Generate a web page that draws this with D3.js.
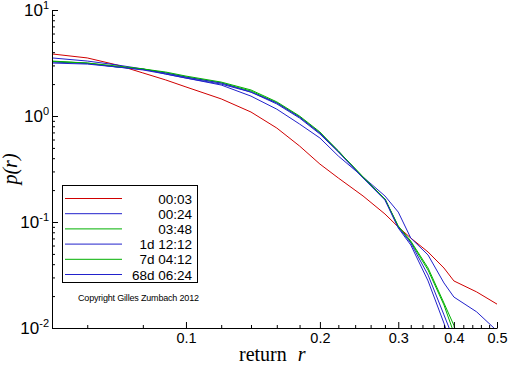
<!DOCTYPE html>
<html>
<head>
<meta charset="utf-8">
<script src="https://cdn.jsdelivr.net/npm/d3@7"></script>
<style>
  body { margin: 0; background: #fff; }
  svg { display: block; }
</style>
</head>
<body>
<div id="VizBox"></div>
<script>
// return values r (shared x grid for all curves)
var returns = [0.05, 0.06, 0.07, 0.08, 0.09, 0.1, 0.12, 0.14, 0.16, 0.18, 0.2,
               0.22, 0.25, 0.28, 0.3, 0.32, 0.35, 0.38, 0.4, 0.45, 0.5];

// p(r) for each time horizon (null = curve left the plot)
var p_0003 = [3.85, 3.53, 3.03, 2.55, 2.19, 1.88, 1.45, 1.09, 0.770, 0.521, 0.352,
              0.260, 0.176, 0.119, 0.0897, 0.0706, 0.0521, 0.0368, 0.0278, 0.0219, 0.0168];
var p_0024 = [3.53, 3.30, 3.03, 2.78, 2.49, 2.28, 1.96, 1.54, 1.16, 0.840, 0.620,
              0.419, 0.266, 0.176, 0.124, 0.0706, 0.0488, 0.0266, 0.0196, 0.0142, 0.0094];
var p_0348 = [3.30, 3.16, 2.90, 2.78, 2.55, 2.33, 2.05, 1.72, 1.33, 0.979, 0.691,
              0.467, 0.266, 0.165, 0.0897, 0.0648, 0.0352, 0.0165, 0.00897, null, null];
var p_1d1212 = [3.23, 3.13, 2.90, 2.75, 2.55, 2.33, 2.05, 1.68, 1.33, 0.979, 0.691,
                0.467, 0.260, 0.165, 0.0897, 0.0634, 0.0316, 0.0133, 0.0077, null, null];
var p_7d0412 = [3.27, 3.16, 2.96, 2.78, 2.60, 2.38, 2.09, 1.76, 1.36, 1.0, 0.707,
                0.467, 0.266, 0.165, 0.0917, 0.0662, 0.0368, 0.0172, 0.0106, 0.00233, null];
var p_68d0624 = [3.16, 3.09, 2.90, 2.72, 2.49, 2.28, 2.00, 1.68, 1.30, 0.957, 0.676,
                 0.457, 0.260, 0.161, 0.0878, 0.0607, 0.0278, 0.0111, 0.00594, null, null];

var seriesNames = ["00:03", "00:24", "03:48", "1d 12:12", "7d 04:12", "68d 06:24"];
var seriesValues = [p_0003, p_0024, p_0348, p_1d1212, p_7d0412, p_68d0624];
var seriesColors = ["#d00000", "#2222cc", "#00b000", "#2222cc", "#00b000", "#2222cc"];

// tick labels
var xTicks = [0.1, 0.2, 0.3, 0.4, 0.5];
var xTickLabels = ["0.1", "0.2", "0.3", "0.4", "0.5"];
var xMinorTicks = [0.06, 0.08, 0.12, 0.14, 0.16, 0.18, 0.22, 0.24, 0.26, 0.28,
                   0.32, 0.34, 0.36, 0.38, 0.42, 0.44, 0.46, 0.48];
var yTicks = [0.01, 0.1, 1, 10];
var yExponents = ["-2", "-1", "0", "1"];

var W = 512, H = 366;
var plotLeft = 52, plotRight = 497, plotTop = 10, plotBottom = 328;

var svg = d3.select("#VizBox")
  .append("svg")
    .attr("width", W)
    .attr("height", H);

var x = d3.scaleLog().domain([0.05, 0.5]).range([plotLeft, plotRight]);
var y = d3.scaleLog().domain([0.01, 10]).range([plotBottom, plotTop]);

// clip for the curves
svg.append("clipPath").attr("id", "plotclip")
  .append("rect")
    .attr("x", plotLeft).attr("y", plotTop)
    .attr("width", plotRight - plotLeft).attr("height", plotBottom - plotTop);

var line = d3.line()
  .defined(function(d) { return d.p != null; })
  .x(function(d) { return x(d.r); })
  .y(function(d) { return y(d.p); });

var curves = svg.append("g").attr("clip-path", "url(#plotclip)");
seriesValues.forEach(function(vals, i) {
  var pts = returns.map(function(r, j) { return {r: r, p: vals[j]}; });
  curves.append("path")
    .datum(pts)
    .attr("fill", "none")
    .attr("stroke", seriesColors[i])
    .attr("stroke-width", 1)
    .attr("d", line);
});

// x axis: minor ticks then major ticks with labels
svg.append("g")
  .attr("transform", "translate(0," + plotBottom + ")")
  .call(d3.axisBottom(x).tickValues(xMinorTicks).tickSizeInner(-3).tickSizeOuter(0).tickFormat(""))
  .call(function(g) { g.select(".domain").remove(); });

var xAxis = svg.append("g")
  .attr("transform", "translate(0," + plotBottom + ")")
  .call(d3.axisBottom(x).tickValues(xTicks).tickSizeInner(-6).tickSizeOuter(0).tickPadding(5)
        .tickFormat(function(d, i) { return xTickLabels[i]; }));
xAxis.selectAll("text")
  .attr("fill", "#000")
  .style("font-family", "'Liberation Sans', Arial, sans-serif")
  .style("font-size", "14.5px");
xAxis.selectAll("line, path").attr("stroke", "#000");

// y axis: minor ticks 2..9 in each decade
var yMinor = [];
[0.01, 0.1, 1].forEach(function(dec) {
  for (var k = 2; k <= 9; k++) yMinor.push(dec * k);
});
svg.append("g")
  .attr("transform", "translate(" + plotLeft + ",0)")
  .call(d3.axisLeft(y).tickValues(yMinor).tickSizeInner(-3).tickSizeOuter(0).tickFormat(""))
  .call(function(g) { g.select(".domain").remove(); });

var yAxis = svg.append("g")
  .attr("transform", "translate(" + plotLeft + ",0)")
  .call(d3.axisLeft(y).tickValues(yTicks).tickSizeInner(-6).tickSizeOuter(0).tickFormat(""));
yAxis.selectAll("line, path").attr("stroke", "#000");

// 10^k labels
yTicks.forEach(function(v, i) {
  var t = svg.append("text")
    .attr("x", plotLeft - 3)
    .attr("y", y(v) + 5.5)
    .attr("text-anchor", "end")
    .style("font-family", "'Liberation Sans', Arial, sans-serif")
    .style("font-size", "17px");
  t.append("tspan").text("10");
  t.append("tspan")
    .attr("dy", -6.5)
    .style("font-size", "11px")
    .text(yExponents[i]);
});

// axis titles
var xTitle = svg.append("text")
  .attr("x", 239)
  .attr("y", 361)
  .style("font-family", "'Liberation Serif', 'Times New Roman', serif")
  .style("font-size", "20px");
xTitle.append("tspan").text("return ");
xTitle.append("tspan").attr("dx", 6).style("font-style", "italic").text("r");

svg.append("text")
  .attr("transform", "translate(17,169) rotate(-90)")
  .attr("text-anchor", "middle")
  .style("font-family", "'Liberation Serif', 'Times New Roman', serif")
  .style("font-size", "20px")
  .style("font-style", "italic")
  .text("p(r)");

// legend
var legend = svg.append("g");
legend.append("rect")
  .attr("x", 62.5).attr("y", 185.5)
  .attr("width", 135).attr("height", 97)
  .attr("fill", "#fff")
  .attr("stroke", "#000")
  .attr("stroke-width", 1);

seriesNames.forEach(function(name, i) {
  var ly = 198.5 + i * 15.2;
  legend.append("line")
    .attr("x1", 65).attr("x2", 122)
    .attr("y1", ly).attr("y2", ly)
    .attr("stroke", seriesColors[i])
    .attr("stroke-width", 1);
  legend.append("text")
    .attr("x", 192)
    .attr("y", ly + 5)
    .attr("text-anchor", "end")
    .style("font-family", "'Liberation Sans', Arial, sans-serif")
    .style("font-size", "13.5px")
    .text(name);
});

svg.append("text")
  .attr("x", 78)
  .attr("y", 301)
  .attr("textLength", 121)
  .style("font-family", "'Liberation Sans', Arial, sans-serif")
  .style("font-size", "9px")
  .text("Copyright Gilles Zumbach 2012");
</script>
</body>
</html>
